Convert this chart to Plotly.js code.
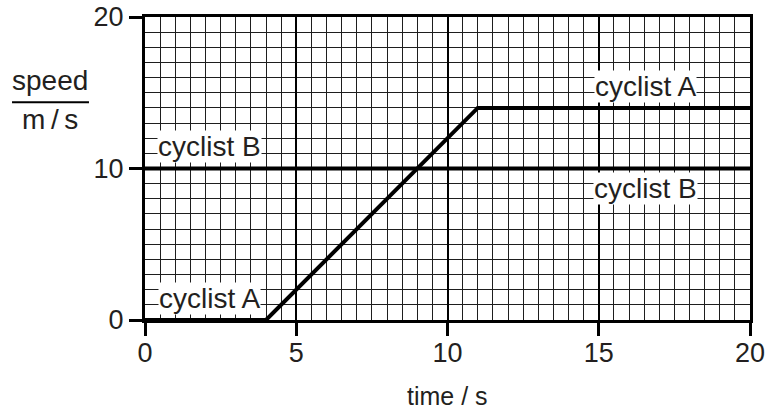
<!DOCTYPE html>
<html>
<head>
<meta charset="utf-8">
<script src="https://cdn.plot.ly/plotly-3.0.1.min.js"></script>
<style>html,body{margin:0;padding:0;background:#fff;}#chart{width:769px;height:412px;}</style>
</head>
<body>
<div id="chart"></div>
<script>
// Data
const cyclistA_time = [0, 4, 11, 20];
const cyclistA_speed = [0, 0, 14, 14];
const cyclistB_time = [0, 20];
const cyclistB_speed = [10, 10];

const xTicks = [0, 5, 10, 15, 20];
const yTicks = [0, 10, 20];

const labelTexts = ["cyclist B", "cyclist A", "cyclist B", "cyclist A"];
const labelX = [2.13, 16.55, 16.53, 2.13];
const labelY = [11.45, 15.38, 8.65, 1.45];

const ink = '#231f20';
const font = 'Liberation Sans, Arial, Helvetica, sans-serif';

const traces = [
  {x: cyclistA_time, y: cyclistA_speed, mode: 'lines', line: {color: '#000', width: 4}, hoverinfo: 'skip', showlegend: false},
  {x: cyclistB_time, y: cyclistB_speed, mode: 'lines', line: {color: '#000', width: 4}, hoverinfo: 'skip', showlegend: false}
];

const annotations = labelTexts.map((t, i) => ({
  x: labelX[i], y: labelY[i], xref: 'x', yref: 'y', text: t, showarrow: false,
  xanchor: 'center', yanchor: 'middle',
  bgcolor: '#fff', borderpad: 0, font: {family: font, size: 28, color: ink}
}));

// axis titles
annotations.push({xref: 'paper', yref: 'paper', x: -0.157, y: 0.79, text: 'speed', showarrow: false,
  xanchor: 'center', yanchor: 'middle', font: {family: font, size: 28, color: ink}});
annotations.push({xref: 'paper', yref: 'paper', x: -0.157, y: 0.663, text: 'm\u2009/\u2009s', showarrow: false,
  xanchor: 'center', yanchor: 'middle', font: {family: font, size: 28, color: ink}});
annotations.push({xref: 'paper', yref: 'paper', x: 0.5, y: -0.251, text: 'time / s', showarrow: false,
  xanchor: 'center', yanchor: 'middle', font: {family: font, size: 25, color: ink}});

const layout = {
  width: 769, height: 412,
  margin: {l: 145, r: 19, t: 17, b: 92},
  paper_bgcolor: '#fff', plot_bgcolor: '#fff',
  showlegend: false,
  xaxis: {
    range: [0, 20], tickvals: xTicks, ticktext: xTicks.map(String),
    ticks: 'outside', ticklen: 13, tickwidth: 3, tickcolor: '#000',
    ticklabelstandoff: -6,
    showline: true, linecolor: '#000', linewidth: 3, mirror: true,
    showgrid: true, gridcolor: '#000', gridwidth: 2,
    minor: {dtick: 0.5, showgrid: true, gridcolor: '#1e1e1e', gridwidth: 1, ticks: ''},
    zeroline: false, fixedrange: true,
    tickfont: {family: font, size: 27, color: ink}
  },
  yaxis: {
    range: [0, 20], tickvals: yTicks, ticktext: yTicks.map(String),
    ticks: 'outside', ticklen: 13, tickwidth: 3, tickcolor: '#000',
    showline: true, linecolor: '#000', linewidth: 3, mirror: true,
    showgrid: true, gridcolor: '#000', gridwidth: 2,
    minor: {dtick: 1, showgrid: true, gridcolor: '#1e1e1e', gridwidth: 1, ticks: ''},
    zeroline: false, fixedrange: true,
    tickfont: {family: font, size: 27, color: ink}
  },
  annotations: annotations,
  shapes: [
    {type: 'line', xref: 'paper', yref: 'paper', x0: -0.2198, x1: -0.0926, y0: 0.719, y1: 0.719,
     line: {color: '#000', width: 2}}
  ]
};

Plotly.newPlot('chart', traces, layout, {displayModeBar: false, staticPlot: true});
</script>
</body>
</html>
